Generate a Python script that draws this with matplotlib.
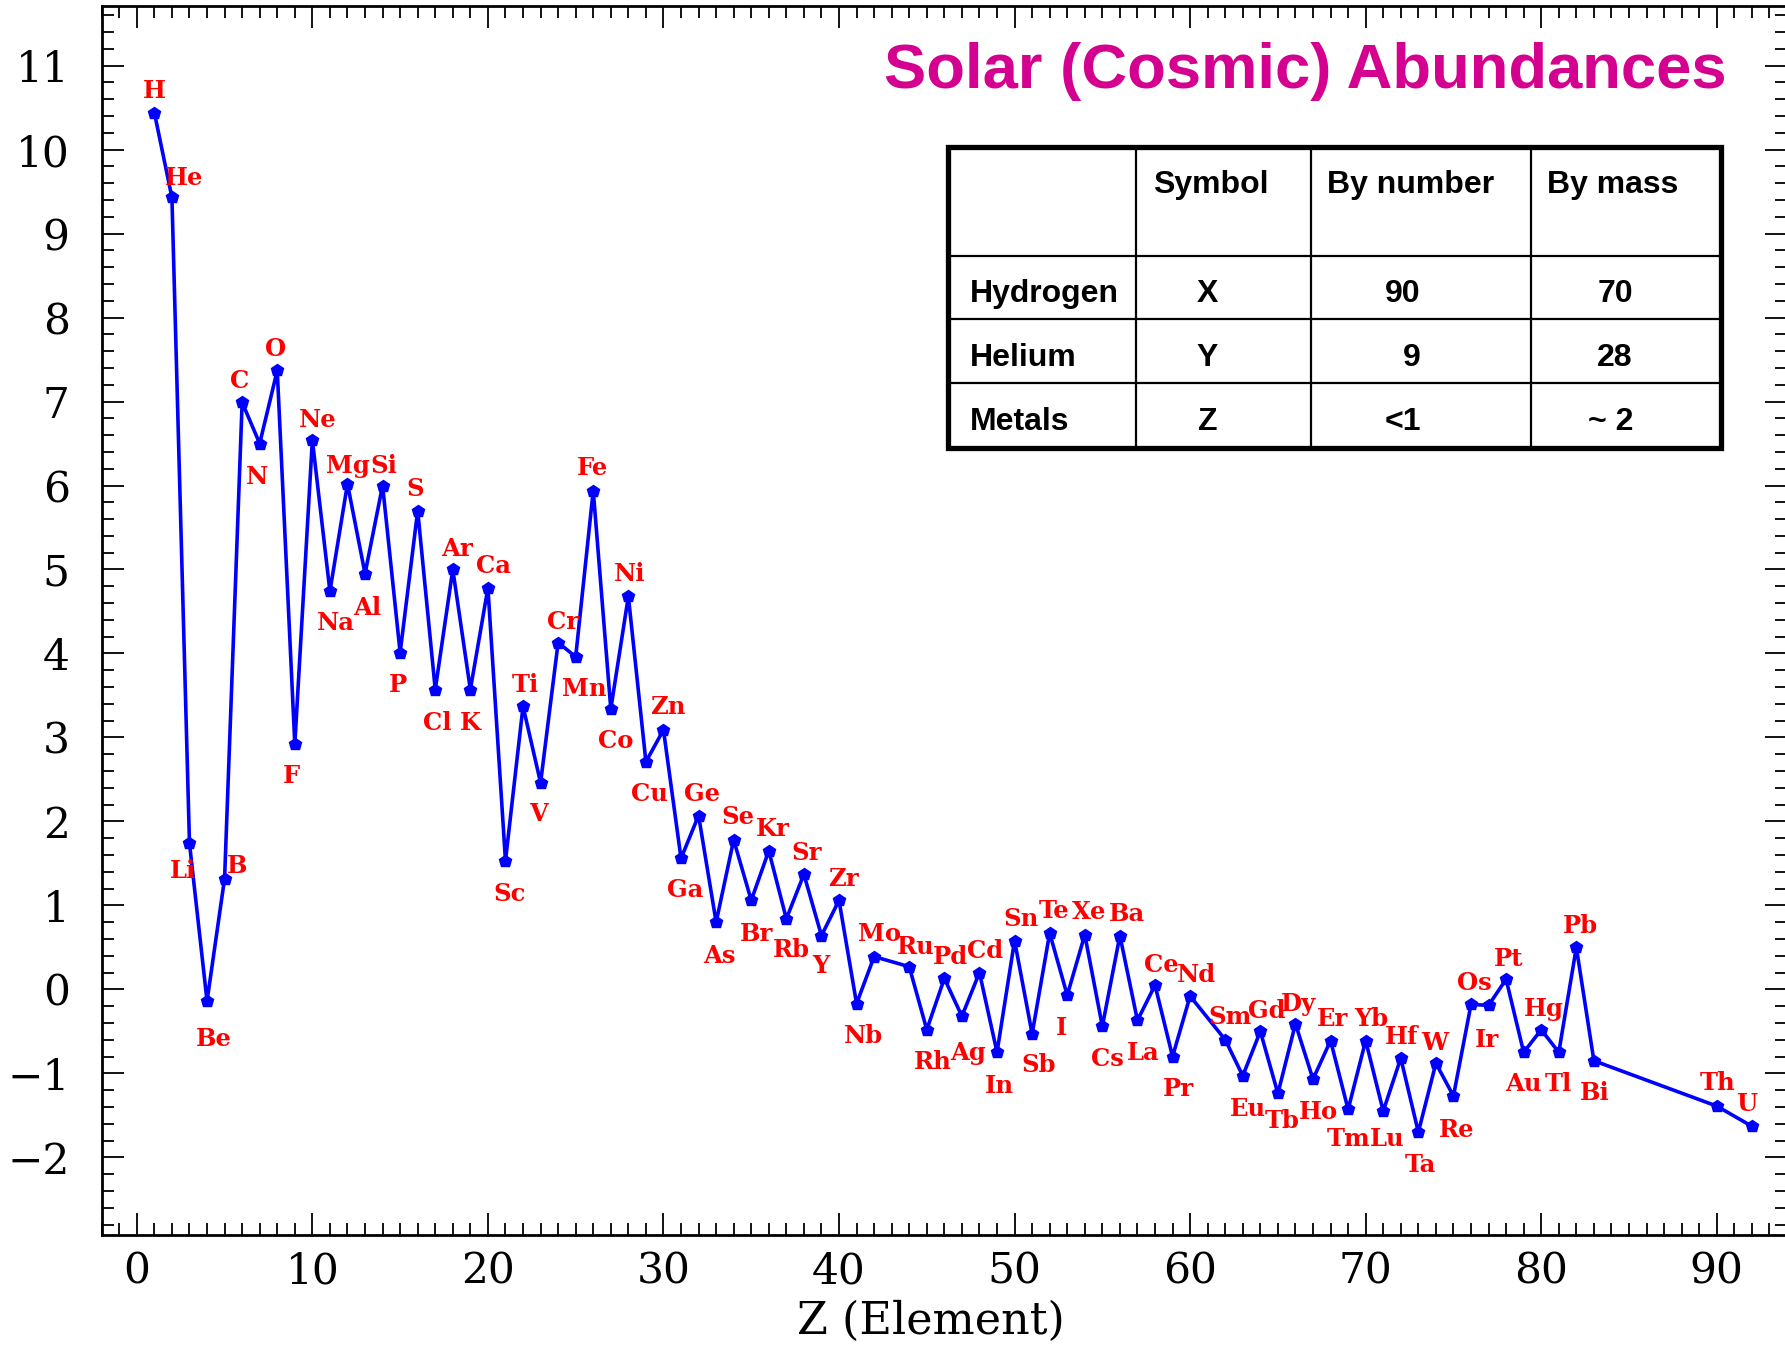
import matplotlib
matplotlib.use('Agg')
import matplotlib.pyplot as plt
from matplotlib import font_manager
from matplotlib.patches import Rectangle
from matplotlib.ticker import MultipleLocator

# log10 number abundance (Si = 10^6) against atomic number
z = [1, 2, 3, 4, 5, 6, 7, 8, 9, 10, 11, 12, 13, 14, 15, 16, 17, 18, 19, 20,
     21, 22, 23, 24, 25, 26, 27, 28, 29, 30, 31, 32, 33, 34, 35, 36, 37, 38, 39, 40,
     41, 42, 44, 45, 46, 47, 48, 49, 50, 51, 52, 53, 54, 55, 56, 57, 58, 59, 60,
     62, 63, 64, 65, 66, 67, 68, 69, 70, 71, 72, 73, 74, 75, 76, 77, 78, 79, 80,
     81, 82, 83, 90, 92]
symbols = ['H', 'He', 'Li', 'Be', 'B', 'C', 'N', 'O', 'F', 'Ne', 'Na', 'Mg', 'Al', 'Si',
           'P', 'S', 'Cl', 'Ar', 'K', 'Ca', 'Sc', 'Ti', 'V', 'Cr', 'Mn', 'Fe', 'Co', 'Ni',
           'Cu', 'Zn', 'Ga', 'Ge', 'As', 'Se', 'Br', 'Kr', 'Rb', 'Sr', 'Y', 'Zr', 'Nb', 'Mo',
           'Ru', 'Rh', 'Pd', 'Ag', 'Cd', 'In', 'Sn', 'Sb', 'Te', 'I', 'Xe', 'Cs', 'Ba', 'La',
           'Ce', 'Pr', 'Nd', 'Sm', 'Eu', 'Gd', 'Tb', 'Dy', 'Ho', 'Er', 'Tm', 'Yb', 'Lu', 'Hf',
           'Ta', 'W', 'Re', 'Os', 'Ir', 'Pt', 'Au', 'Hg', 'Tl', 'Pb', 'Bi', 'Th', 'U']
log_n = [10.44, 9.43, 1.74, -0.14, 1.32, 6.99, 6.50, 7.37, 2.92, 6.54,
         4.74, 6.02, 4.95, 6.00, 4.01, 5.70, 3.57, 5.00, 3.57, 4.78,
         1.53, 3.37, 2.46, 4.13, 3.96, 5.94, 3.34, 4.68, 2.71, 3.09,
         1.56, 2.07, 0.80, 1.78, 1.06, 1.65, 0.84, 1.37, 0.64, 1.06,
         -0.17, 0.39, 0.27, -0.48, 0.13, -0.32, 0.20, -0.75, 0.58, -0.53,
         0.67, -0.07, 0.65, -0.44, 0.64, -0.37, 0.05, -0.80, -0.08,
         -0.60, -1.03, -0.50, -1.24, -0.41, -1.07, -0.61, -1.43, -0.61, -1.45,
         -0.82, -1.70, -0.88, -1.27, -0.18, -0.19, 0.12, -0.75, -0.48, -0.75,
         0.50, -0.85, -1.39, -1.63]

# mass fractions table
table_header = ['', 'Symbol', 'By number', 'By mass']
table_names = ['Hydrogen', 'Helium', 'Metals']
table_symbols = ['X', 'Y', 'Z']
table_by_number = ['90', '9', '<1']
table_by_mass = ['70', '28', '~ 2']

# where each element name sits relative to its point, in pixels
label_offsets = [(0, 24), (12, 22), (-6, -25), (7, -35), (13, 15), (-3, 24), (-3, -31),
                 (-2, 24), (-3, -29), (5, 23), (6, -29), (0, 20), (2, -32), (1, 22),
                 (-2, -30), (-3, 24), (2, -31), (4, 23), (0, -31), (6, 24), (4, -31),
                 (2, 24), (-2, -29), (5, 23), (9, -30), (-1, 25), (5, -30), (1, 25),
                 (4, -30), (4, 25), (4, -29), (3, 24), (3, -31), (4, 25), (5, -31),
                 (4, 24), (5, -29), (3, 24), (-1, -28), (4, 24), (7, -30), (5, 25),
                 (7, 22), (6, -30), (6, 24), (6, -34), (6, 24), (2, -31), (6, 24),
                 (6, -29), (4, 25), (-6, -30), (4, 25), (5, -30), (7, 24), (6, -30),
                 (6, 23), (6, -30), (6, 24), (5, 25), (5, -31), (6, 23), (4, -25),
                 (3, 22), (5, -30), (2, 24), (0, -27), (6, 24), (4, -25), (1, 24),
                 (2, -30), (-1, 23), (3, -31), (3, 24), (-2, -32), (3, 23), (0, -29),
                 (3, 23), (0, -29), (4, 24), (1, -30), (1, 26), (-5, 25)]


def first_font(names):
    for name in names:
        try:
            font_manager.findfont(name, fallback_to_default=False)
            return name
        except ValueError:
            continue
    return None


narrow = first_font(['Liberation Sans Narrow', 'Arial Narrow'])
if narrow:
    table_font, table_size = narrow, 26.5
else:
    table_font, table_size = 'Liberation Sans', 23

plt.rcParams['font.family'] = 'DejaVu Serif'

W, H = 1785, 1346
fig = plt.figure(figsize=(W / 100, H / 100), dpi=100)
ax = fig.add_axes([101.7 / W, 1 - 1235 / H, (1787 - 101.7) / W, (1235 - 6) / H])

ax.plot(z, log_n, color='blue', lw=2.6, marker='p', ms=9, mec='blue', mfc='blue')

for sym, zi, v, (dx, dy) in zip(symbols, z, log_n, label_offsets):
    ax.annotate(sym, (zi, v), xytext=(dx, dy), textcoords='offset pixels',
                ha='center', va='center_baseline', color='red',
                fontsize=17.5, fontweight='bold', family='DejaVu Serif')

ax.set_xlim(-2, 94)
ax.set_ylim(-2.925, 11.71)
ax.xaxis.set_major_locator(MultipleLocator(10))
ax.xaxis.set_minor_locator(MultipleLocator(1))
ax.yaxis.set_major_locator(MultipleLocator(1))
ax.yaxis.set_minor_locator(MultipleLocator(0.2))
ax.tick_params(which='both', direction='in', top=True, right=True,
               width=1.3, color='black', labelsize=30.5)
ax.tick_params(which='major', length=15.6)
ax.tick_params(which='minor', length=8.6)
ax.tick_params(axis='x', pad=11)
ax.tick_params(axis='y', pad=23)
for side in ax.spines.values():
    side.set_linewidth(2.0)

fig.text(931 / W, 1 - 1334 / H, 'Z (Element)', ha='center', va='baseline',
         fontsize=32, family='DejaVu Serif')

fig.text(1727 / W, 1 - 88.3 / H, 'Solar (Cosmic) Abundances', ha='right', va='baseline',
         fontsize=45.6, fontweight='bold', color='#d4008f',
         family=['Liberation Sans', 'DejaVu Sans'])

# table drawn in pixel coordinates on an overlay
tab = fig.add_axes([0, 0, 1, 1])
tab.set_xlim(0, W)
tab.set_ylim(H, 0)
tab.axis('off')
tab.patch.set_alpha(0)

col_x = [948, 1135.5, 1311, 1531, 1721]
row_y = [146.7, 255.7, 319, 383.3, 447.7]
tab.add_patch(Rectangle((col_x[0], row_y[0]), col_x[-1] - col_x[0], row_y[-1] - row_y[0],
                        facecolor='white', edgecolor='black', lw=3.8, zorder=1))
for x in col_x[1:-1]:
    tab.plot([x, x], [row_y[0], row_y[-1]], color='black', lw=1.6, zorder=2)
for y in row_y[1:-1]:
    tab.plot([col_x[0], col_x[-1]], [y, y], color='black', lw=1.6, zorder=2)

tfont = dict(family=[table_font, 'DejaVu Sans'], fontsize=table_size,
             fontweight='bold', color='black', va='baseline', zorder=3)
header_x = [None, 1210.6, 1410.5, 1612.9]
for label, x in zip(table_header, header_x):
    if label:
        tab.text(x, 192.7, label, ha='center', **tfont)

row_base = [301.7, 365.7, 430]
for name, sym, num, mass, yb in zip(table_names, table_symbols, table_by_number,
                                    table_by_mass, row_base):
    tab.text(969.5, yb, name, ha='left', **tfont)
    tab.text(1207.5, yb, sym, ha='center', **tfont)
    tab.text(1421, yb, num, ha='right', **tfont)
    tab.text(1633, yb, mass, ha='right', **tfont)

fig.savefig('out.png', dpi=100)
